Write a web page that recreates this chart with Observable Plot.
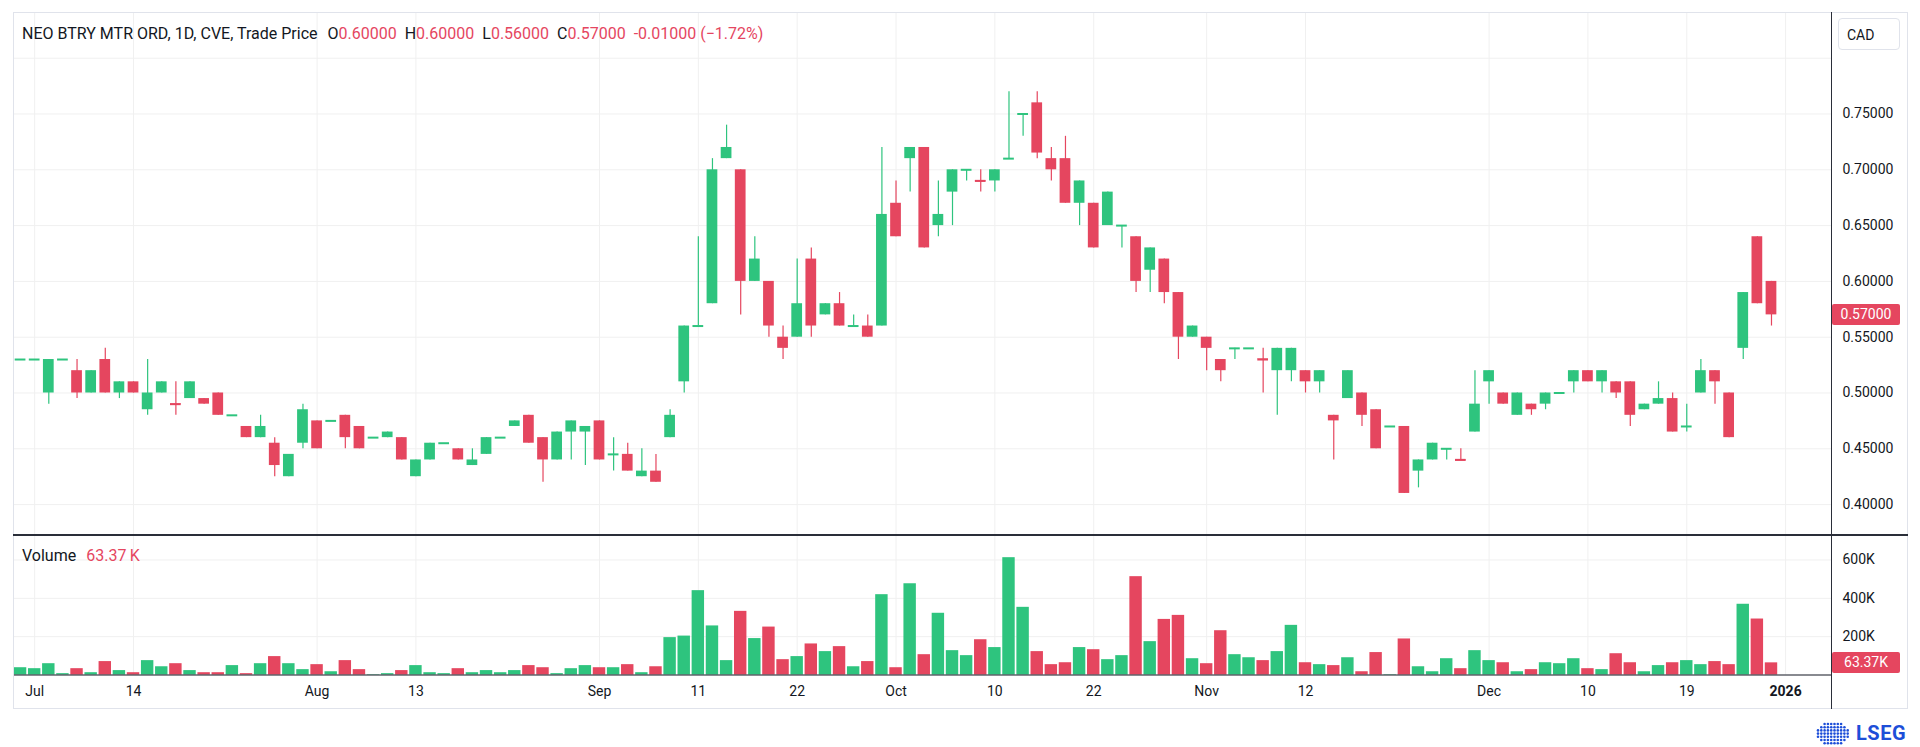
<!DOCTYPE html>
<html>
<head>
<meta charset="utf-8">
<script src="https://cdn.jsdelivr.net/npm/d3@7"></script>
<script src="https://cdn.jsdelivr.net/npm/@observablehq/plot@0.6"></script>
<style>
  html, body { margin: 0; padding: 0; background: #fff; }
  body { font-family: Roboto, "Liberation Sans", sans-serif; color: #131722; }
  #wrap { position: relative; width: 1920px; height: 747px; overflow: hidden; background: #fff; }
  .abs { position: absolute; }
  .hdr { font-size: 16px; line-height: 20px; white-space: nowrap; }
  .red { color: #e5465f; }
  .badge { position: absolute; background: #e5465f; color: #fff; font-size: 14px; line-height: 21px; height: 21px; width: 68px; text-align: center; border-radius: 2px; }
</style>
</head>
<body>
<div id="wrap"></div>
<script>
// ---- data (trading days 30 Jun 2025 .. 31 Dec 2025) ----
const opens  = [0.53,0.53,0.50,0.53,0.52,0.50,0.53,0.50,0.51,0.485,0.50,0.4905,0.495,0.495,0.50,0.48,0.47,0.46,0.455,0.425,
                0.455,0.475,0.475,0.48,0.47,0.46,0.46,0.46,0.425,0.44,0.455,0.45,0.435,0.445,0.46,0.47,0.48,0.46,0.44,0.465,
                0.465,0.475,0.445,0.445,0.425,0.43,0.46,0.51,0.56,0.58,0.71,0.70,0.60,0.60,0.55,0.55,0.62,0.57,0.58,0.56,
                0.56,0.56,0.67,0.71,0.72,0.65,0.68,0.70,0.6905,0.69,0.71,0.75,0.76,0.71,0.71,0.67,0.67,0.65,0.65,0.64,
                0.61,0.62,0.59,0.55,0.55,0.53,0.54,0.54,0.5305,0.52,0.52,0.52,0.51,0.48,0.495,0.50,0.485,0.47,0.47,0.43,
                0.44,0.45,0.4405,0.465,0.51,0.50,0.48,0.49,0.49,0.50,0.51,0.52,0.51,0.51,0.51,0.485,0.49,0.495,0.47,0.50,
                0.52,0.50,0.54,0.64,0.60];
const highs  = [0.53,0.53,0.53,0.53,0.53,0.52,0.54,0.51,0.51,0.53,0.51,0.51,0.51,0.495,0.50,0.48,0.47,0.48,0.46,0.445,
                0.49,0.475,0.475,0.48,0.47,0.46,0.465,0.46,0.44,0.455,0.455,0.45,0.45,0.46,0.46,0.475,0.48,0.46,0.465,0.475,
                0.47,0.475,0.46,0.455,0.45,0.445,0.485,0.56,0.64,0.71,0.74,0.70,0.64,0.60,0.56,0.62,0.63,0.58,0.59,0.57,
                0.57,0.72,0.69,0.72,0.72,0.69,0.70,0.70,0.70,0.70,0.77,0.75,0.77,0.72,0.73,0.69,0.67,0.68,0.65,0.64,
                0.63,0.62,0.59,0.56,0.55,0.53,0.54,0.54,0.54,0.54,0.54,0.52,0.52,0.48,0.52,0.50,0.485,0.47,0.47,0.44,
                0.455,0.45,0.45,0.52,0.52,0.50,0.50,0.49,0.50,0.50,0.52,0.52,0.52,0.51,0.51,0.49,0.51,0.50,0.49,0.53,
                0.52,0.50,0.59,0.64,0.60];
const lows   = [0.53,0.53,0.49,0.53,0.495,0.50,0.50,0.495,0.50,0.48,0.50,0.48,0.495,0.49,0.48,0.48,0.46,0.46,0.425,0.425,
                0.45,0.45,0.475,0.45,0.45,0.46,0.46,0.44,0.425,0.44,0.455,0.44,0.435,0.445,0.46,0.47,0.455,0.42,0.44,0.44,
                0.435,0.44,0.43,0.43,0.425,0.42,0.46,0.50,0.56,0.58,0.71,0.57,0.60,0.55,0.53,0.55,0.55,0.57,0.56,0.56,
                0.55,0.56,0.64,0.68,0.63,0.64,0.65,0.69,0.68,0.68,0.71,0.73,0.71,0.69,0.67,0.65,0.63,0.65,0.63,0.59,
                0.59,0.58,0.53,0.55,0.52,0.51,0.53,0.54,0.50,0.48,0.51,0.50,0.50,0.44,0.495,0.47,0.45,0.47,0.41,0.415,
                0.44,0.44,0.44,0.465,0.49,0.49,0.48,0.48,0.485,0.50,0.50,0.51,0.50,0.495,0.47,0.485,0.49,0.465,0.465,0.50,
                0.49,0.46,0.53,0.58,0.56];
const closes = [0.53,0.53,0.53,0.53,0.50,0.52,0.50,0.51,0.50,0.50,0.51,0.49,0.51,0.49,0.48,0.48,0.46,0.47,0.435,0.445,
                0.485,0.45,0.475,0.46,0.45,0.46,0.465,0.44,0.44,0.455,0.455,0.44,0.44,0.46,0.46,0.475,0.455,0.44,0.465,0.475,
                0.47,0.44,0.445,0.43,0.43,0.42,0.48,0.56,0.56,0.70,0.72,0.60,0.62,0.56,0.54,0.58,0.56,0.58,0.56,0.56,
                0.55,0.66,0.64,0.72,0.63,0.66,0.70,0.70,0.69,0.70,0.71,0.75,0.715,0.70,0.67,0.69,0.63,0.68,0.65,0.60,
                0.63,0.59,0.55,0.56,0.54,0.52,0.54,0.54,0.53,0.54,0.54,0.51,0.52,0.475,0.52,0.48,0.45,0.47,0.41,0.44,
                0.455,0.45,0.44,0.49,0.52,0.49,0.50,0.485,0.50,0.50,0.52,0.51,0.52,0.50,0.48,0.49,0.495,0.465,0.47,0.52,
                0.51,0.46,0.59,0.58,0.57];
const volumesK = [38,33,59,7,33,12,70,23,12,75,43,59,23,12,12,49,7,59,96,59,
                  28,54,17,75,28,2,7,23,49,12,7,33,12,23,12,23,49,38,7,33,
                  49,38,38,54,12,43,195,203,440,256,75,332,190,250,80,96,162,122,148,43,
                  70,419,38,476,106,322,127,101,184,143,612,353,122,54,64,143,132,80,101,513,
                  174,290,311,85,59,231,106,90,75,122,259,64,54,49,90,17,117,2,188,43,
                  17,85,33,127,75,64,17,28,64,59,85,33,28,111,64,17,49,64,75,54,
                  70,54,369,292,63.37];
const timeTickIndex  = [1, 8, 21, 28, 41, 48, 55, 62, 69, 76, 84, 91, 104, 111, 118, 125];
const timeTickLabels = ["Jul","14","Aug","13","Sep","11","22","Oct","10","22","Nov","12","Dec","10","19","2026"];
const priceGrid   = [0.40,0.45,0.50,0.55,0.60,0.65,0.70,0.75,0.80];
const priceLabels = [0.40,0.45,0.50,0.55,0.60,0.65,0.70,0.75];
const volumeTicks = [200,400,600];

// ---- styles ----
const UP = "#2ec47e", DOWN = "#e5465f", GRID = "#f0f0f0", INK = "#131722";
const FONT = "Roboto, 'Liberation Sans', sans-serif";

const candles = closes.map((c, i) => ({
  i, o: opens[i], h: highs[i], l: lows[i], c, v: volumesK[i],
  color: c >= opens[i] ? UP : DOWN
}));
const dojis = candles.filter(d => Math.abs(d.o - d.c) < 0.002);
const xDomain = [-0.5, 128.25];
const wrap = document.getElementById("wrap");

// ---- price pane ----
const price = Plot.plot({
  width: 1920, height: 536,
  marginTop: 12, marginBottom: 1, marginLeft: 13, marginRight: 89,
  style: { fontFamily: FONT, fontSize: "14px", color: INK, background: "transparent", overflow: "visible" },
  x: { domain: xDomain, axis: null },
  y: { domain: [0.37231, 0.84095], axis: null },
  marks: [
    Plot.gridY(priceGrid, { stroke: GRID, strokeOpacity: 1 }),
    Plot.gridX(timeTickIndex, { stroke: GRID, strokeOpacity: 1 }),
    Plot.axisY(priceLabels, { anchor: "right", label: null, tickSize: 0, tickPadding: 11, fontSize: 14, fill: INK,
                              tickFormat: d => d.toFixed(5) }),
    Plot.ruleX(candles, { x: "i", y1: "l", y2: "h", stroke: d => d.color, strokeWidth: 1.2 }),
    Plot.rect(candles, { x1: d => d.i - 0.38, x2: d => d.i + 0.38,
                         y1: d => Math.min(d.o, d.c), y2: d => Math.max(d.o, d.c), fill: d => d.color }),
    Plot.ruleY(dojis, { y: "c", x1: d => d.i - 0.38, x2: d => d.i + 0.38, stroke: d => d.color, strokeWidth: 2 })
  ]
});
price.style.position = "absolute"; price.style.left = "0px"; price.style.top = "0px";
wrap.appendChild(price);

// ---- volume pane ----
const vol = Plot.plot({
  width: 1920, height: 211,
  marginTop: 0, marginBottom: 72.5, marginLeft: 13, marginRight: 89,
  style: { fontFamily: FONT, fontSize: "14px", color: INK, background: "transparent", overflow: "visible" },
  x: { domain: xDomain, axis: null },
  y: { domain: [0, 722.5], axis: null },
  marks: [
    Plot.gridY(volumeTicks, { stroke: GRID, strokeOpacity: 1 }),
    Plot.gridX(timeTickIndex, { stroke: GRID, strokeOpacity: 1 }),
    Plot.rectY(candles, { x1: d => d.i - 0.44, x2: d => d.i + 0.44, y1: 0, y2: "v", fill: d => d.color }),
    Plot.ruleY([0], { stroke: INK, strokeWidth: 1.2 }),
    Plot.axisY(volumeTicks, { anchor: "right", label: null, tickSize: 0, tickPadding: 11, fontSize: 14, fill: INK,
                              tickFormat: d => d + "K" }),
    Plot.axisX(timeTickIndex, { anchor: "bottom", label: null, tickSize: 0, tickPadding: 11, fontSize: 14, fill: INK,
                                tickFormat: d => timeTickLabels[timeTickIndex.indexOf(d)] })
  ]
});
vol.style.position = "absolute"; vol.style.left = "0px"; vol.style.top = "536px";
wrap.appendChild(vol);
d3.select(vol).selectAll("text").filter(function () { return this.textContent === "2026"; })
  .attr("font-weight", "bold");

// ---- frame lines ----
function line(l, t, w, h, c) {
  const e = document.createElement("div");
  e.className = "abs";
  Object.assign(e.style, { left: l + "px", top: t + "px", width: w + "px", height: h + "px", background: c });
  wrap.appendChild(e);
}
line(13, 12, 1894, 1, "#e0e3eb");      // top
line(13, 12, 1, 697, "#e0e3eb");       // left
line(1907, 12, 1, 697, "#e0e3eb");     // right
line(13, 708, 1895, 1, "#e0e3eb");     // bottom
line(13, 534, 1895, 2, "#2a2e39");     // pane separator
line(1831, 12, 1, 697, "#2a2e39");     // price axis border

// ---- last-value badges (positioned by the scales) ----
const last = candles[candles.length - 1];
const py = price.scale("y").apply(last.c);
const vy = 536 + vol.scale("y").apply(last.v);
const b1 = document.createElement("div");
b1.className = "badge"; b1.style.left = "1832px"; b1.style.top = (py - 10.5) + "px";
b1.textContent = last.c.toFixed(5); wrap.appendChild(b1);
const b2 = document.createElement("div");
b2.className = "badge"; b2.style.left = "1832px"; b2.style.top = (vy - 10.5) + "px";
b2.textContent = last.v.toFixed(2) + "K"; wrap.appendChild(b2);

// ---- legends ----
const prev = candles[candles.length - 2];
const chg = last.c - prev.c, pct = chg / prev.c * 100;
const hdr = document.createElement("div");
hdr.className = "abs hdr"; hdr.style.left = "22px"; hdr.style.top = "24px";
hdr.innerHTML = `<span>NEO BTRY MTR ORD, 1D, CVE, Trade Price</span>` +
  `<span style="margin-left:10px">O<span class="red">${last.o.toFixed(5)}</span></span>` +
  `<span style="margin-left:8px">H<span class="red">${last.h.toFixed(5)}</span></span>` +
  `<span style="margin-left:8px">L<span class="red">${last.l.toFixed(5)}</span></span>` +
  `<span style="margin-left:8px">C<span class="red">${last.c.toFixed(5)}</span></span>` +
  `<span class="red" style="margin-left:8px">${chg.toFixed(5)} (${pct.toFixed(2).replace("-", "\u2212")}%)</span>`;
wrap.appendChild(hdr);

const vlab = document.createElement("div");
vlab.className = "abs hdr"; vlab.style.left = "22px"; vlab.style.top = "546px";
vlab.innerHTML = `<span>Volume</span><span class="red" style="margin-left:10px">${last.v.toFixed(2)}\u2009K</span>`;
wrap.appendChild(vlab);

const cad = document.createElement("div");
cad.className = "abs";
Object.assign(cad.style, { left: "1838px", top: "18px", width: "62px", height: "32px", border: "1px solid #e0e3eb",
  borderRadius: "4px", fontSize: "14px", lineHeight: "32px", paddingLeft: "8px", boxSizing: "border-box", background: "#fff" });
cad.textContent = "CAD";
wrap.appendChild(cad);

// ---- LSEG mark ----
const logo = document.createElement("div");
logo.className = "abs";
Object.assign(logo.style, { left: "1815px", top: "720px", height: "26px", display: "flex", alignItems: "center" });
let dots = "";
for (let r = 0; r < 7; r++) for (let c = 0; c < 10; c++) {
  const dx = c - 4.5, dy = r - 3;
  if (dx * dx / 25 + dy * dy / 12 <= 1.05) dots += `<circle cx="${3 + c * 3.3}" cy="${3 + r * 3.2}" r="1.3" fill="#1d4ed8"/>`;
}
logo.innerHTML = `<svg width="36" height="25">${dots}</svg>` +
  `<span style="margin-left:5px;font:bold 20px Roboto, sans-serif;color:#1d4ed8;letter-spacing:0.5px">LSEG</span>`;
wrap.appendChild(logo);
</script>
</body>
</html>
